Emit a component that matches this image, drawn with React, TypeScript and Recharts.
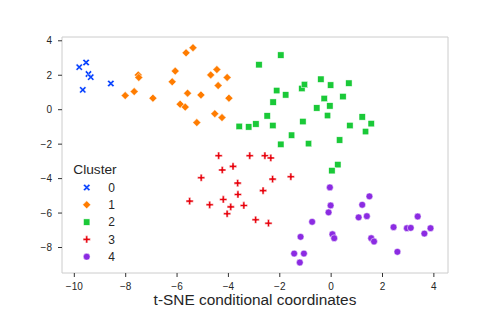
import { ScatterChart, Scatter, XAxis, YAxis, ReferenceArea } from 'recharts'

const FONT = '"Liberation Sans", Arial, sans-serif'

const xTicks = [-10, -8, -6, -4, -2, 0, 2, 4]
const yTicks = [-8, -6, -4, -2, 0, 2, 4]
const xDomain: [number, number] = [-10.48, 4.55]
const yDomain: [number, number] = [-9.48, 4.22]

const clusterNames = ['0', '1', '2', '3', '4']
const clusterColors = ['#023eff', '#ff7c00', '#1ac938', '#e8000b', '#8b2be2']
const clusterMarkers = ['x', 'diamond', 'square', 'plus', 'circle']

const cluster0 = [
  { x: -9.81, y: 2.47 }, { x: -9.54, y: 2.74 }, { x: -9.45, y: 2.07 },
  { x: -9.36, y: 1.89 }, { x: -9.67, y: 1.15 }, { x: -8.58, y: 1.52 },
]

const cluster1 = [
  { x: -8.02, y: 0.82 }, { x: -7.67, y: 1.05 }, { x: -7.51, y: 2.02 },
  { x: -7.49, y: 1.87 }, { x: -6.94, y: 0.67 }, { x: -6.19, y: 1.62 },
  { x: -6.07, y: 2.24 }, { x: -5.65, y: 3.3 }, { x: -5.38, y: 3.6 },
  { x: -5.88, y: 0.32 }, { x: -5.68, y: 0.15 }, { x: -5.59, y: 0.96 },
  { x: -5.07, y: 0.86 }, { x: -5.23, y: -0.75 }, { x: -4.69, y: 2.02 },
  { x: -4.45, y: 2.33 }, { x: -4.4, y: 1.4 }, { x: -4.05, y: 1.87 },
  { x: -3.98, y: 0.67 }, { x: -4.53, y: -0.23 }, { x: -4.25, y: -0.46 },
]

const cluster2 = [
  { x: -3.58, y: -0.97 }, { x: -3.21, y: -1.0 }, { x: -2.93, y: -0.83 },
  { x: -2.81, y: 2.61 }, { x: -1.96, y: 3.17 }, { x: -2.49, y: -0.36 },
  { x: -2.26, y: 0.44 }, { x: -2.12, y: 1.11 }, { x: -1.77, y: 0.86 },
  { x: -2.27, y: -0.92 }, { x: -1.96, y: -2.01 }, { x: -1.54, y: -1.48 },
  { x: -1.14, y: 1.23 }, { x: -1.04, y: 1.46 }, { x: -1.1, y: -0.69 },
  { x: -0.88, y: -1.97 }, { x: -0.4, y: 1.77 }, { x: -0.27, y: 0.65 },
  { x: -0.56, y: 0.1 }, { x: -0.02, y: 1.43 }, { x: -0.05, y: 0.22 },
  { x: -0.14, y: -0.34 }, { x: 0.46, y: 0.76 }, { x: 0.69, y: 1.54 },
  { x: 0.33, y: -1.76 }, { x: 0.73, y: -0.92 }, { x: 1.21, y: -0.42 },
  { x: 1.56, y: -0.81 }, { x: 1.34, y: -1.27 }, { x: 0.26, y: -3.19 },
  { x: 0.03, y: -3.54 },
]

const cluster3 = [
  { x: -5.51, y: -5.31 }, { x: -5.06, y: -3.95 }, { x: -4.73, y: -5.52 },
  { x: -4.38, y: -2.67 }, { x: -4.24, y: -3.5 }, { x: -3.82, y: -3.29 },
  { x: -4.2, y: -5.21 }, { x: -3.64, y: -4.26 }, { x: -3.63, y: -4.92 },
  { x: -3.91, y: -5.64 }, { x: -4.05, y: -6.04 }, { x: -3.4, y: -5.56 },
  { x: -3.17, y: -2.67 }, { x: -2.58, y: -2.67 }, { x: -2.35, y: -2.8 },
  { x: -2.28, y: -4.03 }, { x: -1.57, y: -3.89 }, { x: -2.65, y: -4.7 },
  { x: -2.94, y: -6.39 }, { x: -2.44, y: -6.59 },
]

const cluster4 = [
  { x: -0.05, y: -4.51 }, { x: -0.02, y: -5.56 }, { x: -0.1, y: -5.96 },
  { x: -0.74, y: -6.51 }, { x: -1.19, y: -7.38 }, { x: -1.44, y: -8.35 },
  { x: -1.06, y: -8.35 }, { x: -1.22, y: -8.87 }, { x: 0.05, y: -7.23 },
  { x: 0.12, y: -7.46 }, { x: 1.49, y: -5.03 }, { x: 1.21, y: -5.52 },
  { x: 1.07, y: -6.25 }, { x: 1.39, y: -6.18 }, { x: 1.56, y: -7.46 },
  { x: 1.67, y: -7.65 }, { x: 2.43, y: -6.82 }, { x: 2.58, y: -8.25 },
  { x: 2.95, y: -6.88 }, { x: 3.1, y: -6.86 }, { x: 3.37, y: -6.2 },
  { x: 3.63, y: -7.19 }, { x: 3.87, y: -6.88 },
]

const clusters = [cluster0, cluster1, cluster2, cluster3, cluster4]

const fmt = (v: number) => String(v).replace('-', '\u2212')

function Marker({ kind, cx, cy, color }: { kind: string; cx: number; cy: number; color: string }) {
  const stroke = { fill: color, stroke: '#ffffff', strokeWidth: 0.5 }
  if (kind === 'circle') return <circle cx={cx} cy={cy} r={3.4} {...stroke} />
  if (kind === 'square') return <rect x={cx - 3.2} y={cy - 3.2} width={6.4} height={6.4} {...stroke} />
  if (kind === 'diamond') {
    const r = 4
    return <path d={`M${cx},${cy - r}L${cx + r},${cy}L${cx},${cy + r}L${cx - r},${cy}Z`} {...stroke} />
  }
  if (kind === 'plus') {
    const a = 3.6, t = 1.05
    return (
      <path
        d={`M${cx - t},${cy - a}H${cx + t}V${cy - t}H${cx + a}V${cy + t}H${cx + t}V${cy + a}H${cx - t}V${cy + t}H${cx - a}V${cy - t}H${cx - t}Z`}
        {...stroke}
      />
    )
  }
  // filled X
  const a = 3.9, t = 1.0
  return (
    <g transform={`translate(${cx},${cy}) rotate(45)`}>
      <path
        d={`M${-t},${-a}H${t}V${-t}H${a}V${t}H${t}V${a}H${-t}V${t}H${-a}V${-t}H${-t}Z`}
        {...stroke}
      />
    </g>
  )
}

function ClusterLegend() {
  return (
    <svg width={80} height={115} style={{ position: 'absolute', left: 60, top: 155, fontFamily: FONT }}>
      <text x={13.3} y={19} fontSize={13.7} fill="#262626">Cluster</text>
      {clusterNames.map((name, i) => {
        const cy = 32.5 + i * 17.3
        return (
          <g key={name}>
            <Marker kind={clusterMarkers[i]} cx={26.7} cy={cy} color={clusterColors[i]} />
            <text x={48.3} y={cy + 4.3} fontSize={12} fill="#262626">{name}</text>
          </g>
        )
      })}
    </svg>
  )
}

export default function App() {
  return (
    <div style={{ position: 'absolute', left: 0, top: 0, width: 498, height: 312, background: '#fff' }}>
      <ScatterChart width={498} height={312} margin={{ top: 37, right: 50, left: 0, bottom: 0 }}>
        <XAxis
          type="number"
          dataKey="x"
          domain={xDomain}
          ticks={xTicks}
          allowDataOverflow
          axisLine={false}
          tickLine={{ stroke: '#333333' }}
          tickSize={4}
          tickMargin={6}
          height={39}
          tickFormatter={fmt}
          tick={{ fontSize: 10, fill: '#262626', fontFamily: FONT }}
          label={{
            value: 't-SNE conditional coordinates',
            position: 'insideBottom',
            offset: 7,
            fontSize: 15.4,
            fill: '#262626',
            fontFamily: FONT,
          }}
        />
        <YAxis
          type="number"
          dataKey="y"
          domain={yDomain}
          ticks={yTicks}
          allowDataOverflow
          axisLine={false}
          tickLine={{ stroke: '#333333' }}
          tickSize={4}
          tickMargin={6}
          width={62}
          tickFormatter={fmt}
          tick={{ fontSize: 10, fill: '#262626', fontFamily: FONT }}
        />
        <ReferenceArea
          x1={xDomain[0]}
          x2={xDomain[1]}
          y1={yDomain[0]}
          y2={yDomain[1]}
          fill="none"
          stroke="#cccccc"
          strokeWidth={1}
        />
        {clusters.map((pts, i) => (
          <Scatter
            key={clusterNames[i]}
            name={clusterNames[i]}
            data={pts}
            fill={clusterColors[i]}
            isAnimationActive={false}
            shape={(p: any) => <Marker kind={clusterMarkers[i]} cx={p.cx} cy={p.cy} color={clusterColors[i]} />}
          />
        ))}
      </ScatterChart>
      <ClusterLegend />
    </div>
  )
}
